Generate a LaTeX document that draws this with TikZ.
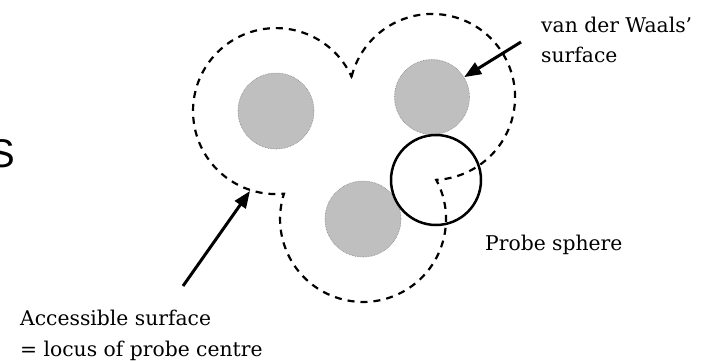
\documentclass[tikz,border=0pt]{standalone}
\usepackage{fontspec}
\setmainfont{DejaVu Serif}
\newfontfamily\slidefont{Liberation Sans}
\usetikzlibrary{arrows.meta}

\begin{document}
\begin{tikzpicture}[
    x=1pt, y=-1pt,
    atom/.style={circle, draw=black!50, densely dotted, line width=0.6pt, fill=black!25, minimum size=76pt, inner sep=0pt},
    probesph/.style={circle, draw=black, line width=2.5pt, minimum size=90pt, inner sep=0pt},
    surf/.style={dash pattern=on 7pt off 6pt, line width=2.2pt},
    lbl/.style={font=\fontsize{20.3}{30.5}\selectfont, align=left, inner sep=0pt},
    arr/.style={-{Triangle[length=17pt, width=13pt]}, line width=3pt}
]
    \useasboundingbox (0,0) rectangle (704,361);
    \clip (0,0) rectangle (704,361);

    % big letter cut by the left edge
    \node[font=\slidefont\fontsize{40}{40}\selectfont, anchor=base east, inner sep=0pt] (bigs) at (15,167) {S};

    % atoms and probe
    \node[atom] (a1) at (276,111) {};
    \node[atom, minimum size=75pt] (a2) at (432,97) {};
    \node[atom] (a3) at (363,219) {};
    \node[probesph] (probe) at (436,180) {};

    % accessible surface, arcs round each atom meeting at the probe centre
    \coordinate (q) at (351.6,76.6);
    \draw[surf] (q) arc[start angle=-165.8, end angle=87.1, radius=83]
        arc[start angle=-28.1, end angle=197.7, radius=83]
        arc[start angle=84.5, end angle=335.5, radius=83] -- cycle;

    % labels (base is the last line)
    \node[lbl, anchor=base west] (vdw) at (541,63) {van der Waals'\\surface};
    \node[lbl, anchor=base west] (probelbl) at (485,250) {Probe sphere};
    \node[lbl, anchor=base west] (acc) at (20,356) {Accessible surface\\= locus of probe centre};

    % arrows
    \coordinate (vdwtail) at (521,42);
    \coordinate (acctail) at (183,286);
    \coordinate (acctip) at (250,191);
    \draw[arr] (vdwtail) -- (a2);
    \draw[arr] (acctail) -- (acctip);
\end{tikzpicture}
\end{document}
